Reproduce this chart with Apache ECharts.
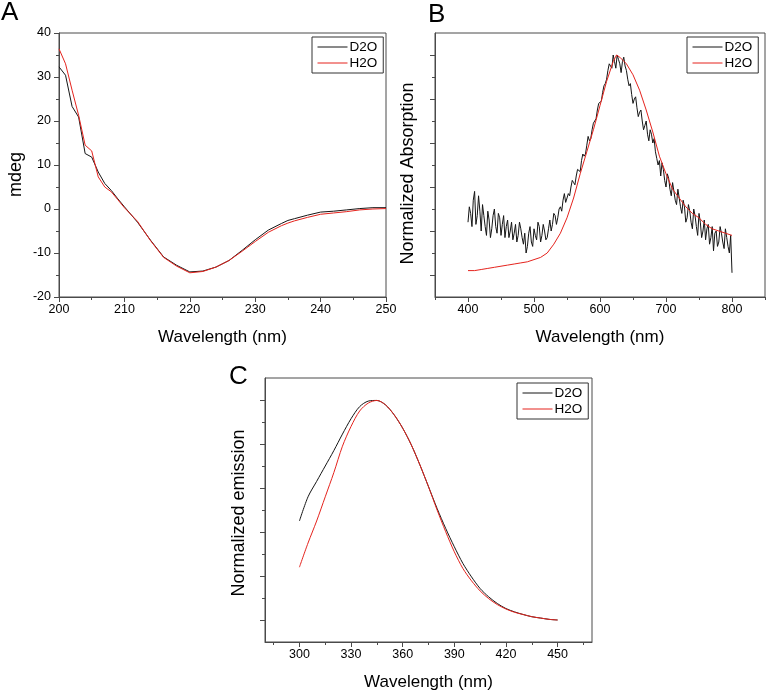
<!DOCTYPE html>
<html><head><meta charset="utf-8">
<script src="https://cdn.jsdelivr.net/npm/echarts@6/dist/echarts.min.js"></script>
<style>html,body{margin:0;padding:0;background:#fff}#c{width:768px;height:694px}</style>
</head><body><div id="c"></div><script>
// ---------- Panel A: CD spectra (mdeg) ----------
const cdWavelength = [200,201,202,203,204,205,206,207,208,209,210,212,214,216,218,220,222,224,226,228,230,232,234,235,236,238,240,242,244,246,248,250];
const cdD2O = [32.3,30.4,23.3,20.9,12.6,11.8,8.4,5.8,4.2,2.3,0.5,-3.0,-7.1,-10.9,-12.8,-14.3,-14.1,-13.2,-11.7,-9.4,-7.0,-4.8,-3.3,-2.6,-2.2,-1.4,-0.7,-0.5,-0.2,0.1,0.3,0.3];
const cdH2O = [36.4,33.0,27.0,21.3,14.5,13.2,7.3,5.0,3.9,2.1,0.3,-2.8,-7.2,-11.0,-13.0,-14.5,-14.2,-13.2,-11.7,-9.6,-7.4,-5.3,-3.8,-3.2,-2.7,-1.9,-1.2,-0.9,-0.6,-0.2,0.0,0.1];

// ---------- Panel B: normalized absorption ----------
const absWavelengthD2O = [
400,402,404,406,408,410,412,414,416,418,420,422,424,426,428,430,432,434,436,438,
440,442,444,446,448,450,452,454,456,458,460,462,464,466,468,470,472,474,476,478,
480,482,484,486,488,490,492,494,496,498,500,502,504,506,508,510,512,514,516,518,
520,522,524,526,528,530,532,534,536,538,540,542,544,546,548,550,552,554,556,558,
560,562,564,566,568,570,572,574,576,578,580,582,584,586,588,590,592,594,596,598,
600,602,604,606,608,610,612,614,616,618,620,622,624,626,628,630,632,634,636,638,
640,642,644,646,648,650,652,654,656,658,660,662,664,666,668,670,672,674,676,678,
680,682,684,686,688,690,692,694,696,698,700,702,704,706,708,710,712,714,716,718,
720,722,724,726,728,730,732,734,736,738,740,742,744,746,748,750,752,754,756,758,
760,762,764,766,768,770,772,774,776,778,780,782,784,786,788,790,792,794,796,798,800];
const absD2O = [
0.24,0.31,0.28,0.22,0.34,0.38,0.23,0.27,0.36,0.29,0.20,0.32,0.27,0.22,0.18,0.29,0.25,0.17,0.21,0.27,
0.30,0.22,0.19,0.28,0.26,0.18,0.23,0.27,0.17,0.22,0.25,0.17,0.20,0.24,0.16,0.19,0.23,0.15,0.18,0.24,
0.21,0.17,0.14,0.19,0.10,0.13,0.19,0.22,0.15,0.13,0.21,0.18,0.16,0.24,0.22,0.15,0.18,0.23,0.20,0.16,
0.17,0.21,0.25,0.20,0.23,0.28,0.27,0.23,0.26,0.30,0.31,0.29,0.34,0.37,0.33,0.35,0.37,0.36,0.40,0.43,
0.42,0.41,0.45,0.48,0.48,0.47,0.52,0.55,0.54,0.55,0.59,0.63,0.61,0.62,0.66,0.69,0.70,0.71,0.75,0.78,
0.78,0.79,0.83,0.86,0.87,0.89,0.93,0.96,0.96,0.94,1.00,0.97,0.94,1.00,0.98,0.96,0.92,0.97,0.99,0.95,
0.93,0.89,0.86,0.87,0.82,0.78,0.80,0.81,0.76,0.72,0.74,0.75,0.70,0.66,0.68,0.70,0.64,0.61,0.66,0.64,
0.60,0.62,0.56,0.53,0.50,0.52,0.45,0.51,0.48,0.43,0.40,0.46,0.44,0.39,0.36,0.42,0.38,0.34,0.32,0.39,
0.35,0.31,0.28,0.34,0.31,0.24,0.26,0.32,0.29,0.24,0.21,0.30,0.27,0.22,0.18,0.28,0.24,0.17,0.20,0.25,
0.16,0.21,0.23,0.14,0.17,0.22,0.11,0.19,0.20,0.13,0.15,0.22,0.19,0.15,0.12,0.21,0.17,0.13,0.10,0.18,0.01];
const absWavelengthH2O = [400,410,420,430,440,450,460,470,480,490,500,510,520,530,540,550,560,570,580,590,600,610,620,625,630,640,650,660,670,680,690,700,710,720,730,740,750,760,770,780,790,800];
const absH2O = [0.02,0.02,0.025,0.03,0.035,0.04,0.045,0.05,0.055,0.06,0.07,0.08,0.10,0.14,0.19,0.26,0.35,0.46,0.56,0.66,0.77,0.88,0.97,1.00,0.99,0.96,0.91,0.84,0.75,0.65,0.54,0.46,0.39,0.35,0.31,0.28,0.26,0.23,0.21,0.20,0.19,0.18];
const absXTicks = [400,500,600,700,800];
const absXMinorTicks = [350,450,550,650,750,850];

// ---------- Panel C: normalized emission ----------
const emWavelength = [300,305,310,315,320,325,330,335,340,345,350,355,360,365,370,375,380,385,390,395,400,405,410,415,420,425,430,435,440,445,450];
const emD2O = [0.45,0.56,0.63,0.70,0.77,0.845,0.915,0.97,0.995,0.998,0.978,0.933,0.872,0.796,0.705,0.606,0.507,0.416,0.333,0.257,0.196,0.143,0.105,0.075,0.052,0.037,0.025,0.015,0.009,0.003,0.0];
const emH2O = [0.24,0.35,0.45,0.56,0.67,0.79,0.88,0.95,0.986,0.998,0.978,0.933,0.872,0.796,0.705,0.606,0.50,0.401,0.31,0.234,0.178,0.132,0.097,0.070,0.050,0.035,0.025,0.015,0.009,0.003,0.0];
const emXTicks = [300,330,360,390,420,450];
const emXMinorTicks = [285,315,345,375,405,435,465];

const normYTicks = [0,0.2,0.4,0.6,0.8,1];
const normYMinorTicks = [0.1,0.3,0.5,0.7,0.9];

const seriesNames = ['D2O','H2O'];
const panelLetters = ['A','B','C'];

// ---------- styling ----------
const FONT = 'Liberation Sans, Arial, sans-serif';
const AX = '#4a4a4a';
const BLACK = '#151515';
const RED = '#e5231d';

function zip(xs, ys){ return xs.map((x,i)=>[x, ys[i]]); }

function axisBase(gridIndex, min, max){
  return {
    type:'value', gridIndex, min, max,
    axisLine:{show:true, onZero:false, lineStyle:{color:AX, width:1}},
    axisTick:{show:true, length:5, lineStyle:{color:AX, width:1}},
    axisLabel:{color:'#000', fontFamily:FONT, fontSize:12.5},
    splitLine:{show:false},
    nameTextStyle:{color:'#000', fontFamily:FONT}
  };
}
function minorAxis(gridIndex, min, max, pos, vals){
  return {
    type:'value', gridIndex, min, max, position:pos,
    axisLine:{show:false, onZero:false},
    axisTick:{show:true, length:3, customValues:vals, lineStyle:{color:AX, width:1}},
    axisLabel:{show:false},
    splitLine:{show:false}
  };
}

const xA = Object.assign(axisBase(0,200,250), {
  position:'bottom', interval:10,
  minorTick:{show:true, splitNumber:2, length:3, lineStyle:{color:AX}},
  name:'Wavelength (nm)', nameLocation:'middle', nameGap:32
});
xA.axisLabel.margin = 6;
xA.nameTextStyle.fontSize = 17;

const xB = Object.assign(axisBase(1,350,850), {
  position:'bottom', name:'Wavelength (nm)', nameLocation:'middle', nameGap:32
});
xB.axisLabel.margin = 6; xB.axisLabel.customValues = absXTicks;
xB.axisTick.customValues = absXTicks;
xB.nameTextStyle.fontSize = 17;

const xC = Object.assign(axisBase(2,280,470), {
  position:'bottom', name:'Wavelength (nm)', nameLocation:'middle', nameGap:32
});
xC.axisLabel.margin = 6; xC.axisLabel.customValues = emXTicks;
xC.axisTick.customValues = emXTicks;
xC.nameTextStyle.fontSize = 17;

const yA = Object.assign(axisBase(0,-20,40), {
  position:'left', interval:10,
  minorTick:{show:true, splitNumber:2, length:3, lineStyle:{color:AX}},
  name:'mdeg', nameLocation:'middle', nameGap:34
});
yA.axisLabel.margin = 8;
yA.nameTextStyle.fontSize = 18;
yA.nameTextStyle.padding = [0,19,0,0];

const yB = Object.assign(axisBase(1,-0.1,1.1), {
  position:'left', name:'Normalized Absorption', nameLocation:'middle', nameGap:18
});
yB.axisLabel.show = false; yB.axisTick.customValues = normYTicks;
yB.nameTextStyle.fontSize = 18;
yB.nameTextStyle.padding = [0,17,0,0];

const yC = Object.assign(axisBase(2,-0.1,1.1), {
  position:'left', name:'Normalized emission', nameLocation:'middle', nameGap:17
});
yC.axisLabel.show = false; yC.axisTick.customValues = normYTicks;
yC.nameTextStyle.fontSize = 18;
yC.nameTextStyle.padding = [0,6,0,0];

function legendAt(left, top){
  return {
    orient:'vertical', left, top, data:seriesNames,
    borderColor:'#333', borderWidth:1, padding:[3,6,3,5], itemGap:2,
    itemWidth:30, itemHeight:13, backgroundColor:'#fff',
    itemStyle:{opacity:0},
    lineStyle:{width:1},
    textStyle:{color:'#000', fontFamily:FONT, fontSize:13.5, padding:[0,0,0,-3]}
  };
}

function line(name, data, xi, yi, color, smooth){
  return {
    type:'line', name, data, xAxisIndex:xi, yAxisIndex:yi,
    symbol:'none', smooth:smooth || false, animation:false,
    lineStyle:{color, width:1}, itemStyle:{color}
  };
}

const letterStyle = {fontSize:26, fontWeight:'normal', color:'#000', fontFamily:FONT};
const option = {
  animation:false,
  backgroundColor:'#fff',
  title: [
    {text:panelLetters[0], left:1, top:0, padding:0, textStyle:letterStyle},
    {text:panelLetters[1], left:428, top:2, padding:0, textStyle:letterStyle},
    {text:panelLetters[2], left:229, top:364, padding:0, textStyle:letterStyle}
  ],
  grid: [
    {left:59, top:33, width:327, height:264, show:true, borderColor:AX, borderWidth:1, backgroundColor:'transparent'},
    {left:435, top:33, width:330, height:264, show:true, borderColor:AX, borderWidth:1, backgroundColor:'transparent'},
    {left:265, top:378, width:327, height:264, show:true, borderColor:AX, borderWidth:1, backgroundColor:'transparent'}
  ],
  xAxis: [xA, xB, minorAxis(1,350,850,'bottom',absXMinorTicks), xC, minorAxis(2,280,470,'bottom',emXMinorTicks)],
  yAxis: [yA, yB, minorAxis(1,-0.1,1.1,'left',normYMinorTicks), yC, minorAxis(2,-0.1,1.1,'left',normYMinorTicks)],
  legend: [legendAt(312,37), legendAt(687,37), legendAt(517,383)],
  series: [
    line(seriesNames[0], zip(cdWavelength, cdD2O), 0, 0, BLACK),
    line(seriesNames[1], zip(cdWavelength, cdH2O), 0, 0, RED),
    line(seriesNames[0], zip(absWavelengthD2O, absD2O), 1, 1, BLACK),
    line(seriesNames[1], zip(absWavelengthH2O, absH2O), 1, 1, RED),
    line(seriesNames[0], zip(emWavelength, emD2O), 3, 3, BLACK, 0.3),
    line(seriesNames[1], zip(emWavelength, emH2O), 3, 3, RED, 0.3)
  ]
};
const chart = echarts.init(document.getElementById('c'), null, {renderer:'canvas'});
chart.setOption(option);
</script></body></html>
